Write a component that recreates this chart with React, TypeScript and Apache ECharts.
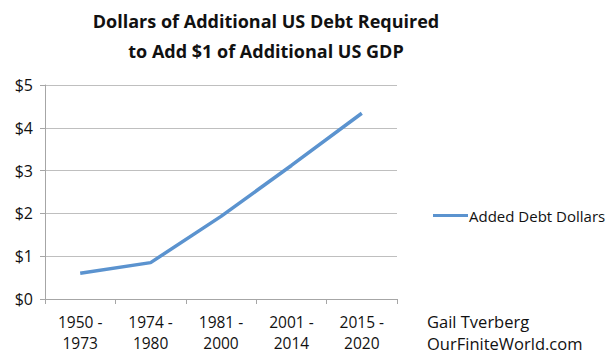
import React, { useEffect, useRef } from "react";
import * as echarts from "echarts";

const categories = ["1950 -\n1973", "1974 -\n1980", "1981 -\n2000", "2001 -\n2014", "2015 -\n2020"];
const addedDebtDollars = [0.6, 0.85, 1.93, 3.12, 4.34];
const seriesName = "Added Debt Dollars";
const titleText = "Dollars of Additional US Debt Required\nto Add $1 of Additional US GDP";
const attribution = "Gail Tverberg\nOurFiniteWorld.com";

export default function App() {
  const ref = useRef<HTMLDivElement>(null);
  useEffect(() => {
    const chart = echarts.init(ref.current!, null, { renderer: "svg" });
    const font = "'Open Sans', sans-serif";
    chart.setOption({
      animation: false,
      backgroundColor: "#ffffff",
      grid: { left: 45, right: 213, top: 85, bottom: 60, containLabel: false },
      xAxis: {
        type: "category",
        data: categories,
        boundaryGap: true,
        axisLine: { lineStyle: { color: "#a6a6a6", width: 1 } },
        axisTick: { show: true, length: 5, lineStyle: { color: "#a6a6a6" } },
        axisLabel: { fontFamily: font, fontSize: 15.5, color: "#111", lineHeight: 21.5, margin: 12 },
      },
      yAxis: {
        type: "value",
        min: 0,
        max: 5,
        interval: 1,
        axisLine: { show: true, lineStyle: { color: "#a6a6a6", width: 1 } },
        axisTick: { show: true, length: 5, lineStyle: { color: "#a6a6a6" } },
        splitLine: { lineStyle: { color: "#bfbfbf", width: 1 } },
        axisLabel: { fontFamily: font, fontSize: 16, color: "#111", margin: 12, formatter: "${value}" },
      },
      legend: {
        left: 428,
        top: 203,
        orient: "vertical",
        itemWidth: 35,
        itemHeight: 3,
        itemGap: 5,
        icon: "rect",
        textStyle: { fontFamily: font, fontSize: 15, color: "#111", padding: [0, 0, 0, -4] },
        data: [seriesName],
      },
      graphic: [
        {
          type: "text",
          x: 266,
          y: 6,
          style: {
            text: titleText,
            align: "center",
            font: `bold 18px ${font}`,
            lineHeight: 30,
            fill: "#111",
          },
        },
        {
          type: "text",
          left: 427,
          top: 310,
          style: { text: attribution, font: `16.5px ${font}`, lineHeight: 22, fill: "#111" },
        },
      ],
      series: [
        {
          name: seriesName,
          type: "line",
          data: addedDebtDollars,
          symbol: "none",
          lineStyle: { color: "#5b93cf", width: 3.5 },
          itemStyle: { color: "#5b93cf" },
        },
      ],
    });
    return () => chart.dispose();
  }, []);
  return <div ref={ref} style={{ position: "fixed", left: 0, top: 0, width: 610, height: 359 }} />;
}
